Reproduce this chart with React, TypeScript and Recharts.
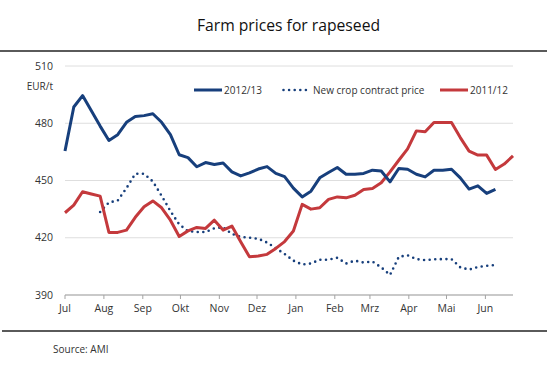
import React from "react"
import {
  LineChart,
  Line,
  XAxis,
  YAxis,
  CartesianGrid
} from "recharts"

const MONTHS = ["Jul", "Aug", "Sep", "Okt", "Nov", "Dez", "Jan", "Feb", "Mrz", "Apr", "Mai", "Jun"]
// days from 1 July to the start of each month
const MONTH_START_DAYS = [0, 31, 62, 92, 123, 153, 184, 215, 243, 274, 304, 335]

const Y_TICKS = [390, 420, 450, 480, 510]

// weekly prices, EUR/t
const CROP_2012_13 = [
  465.5, 488.5, 494.5, 486.5, 478.5, 471, 474, 480.5, 483.5, 484, 485, 480.5, 474,
  463.5, 462, 457.2, 459.4, 458.4, 459.2, 454.5, 452.4, 454, 456, 457.3, 453.7, 452,
  446, 441.4, 444.4, 451.4, 454.2, 456.8, 453.3, 453.3, 453.7, 455.4, 455, 449.3,
  456.3, 455.9, 453.3, 451.9, 455.4, 455.4, 455.9, 451.4, 445.5, 447.2, 443.2, 445.3
]

const NEW_CROP = [
  null, null, null, null, 433.5, 438.5, 439.5, 446, 453.5, 453.5, 449.5, 442, 434,
  427, 423.5, 423, 423, 425, 425.5, 422, 420.5, 420, 419.5, 417.5, 414.5, 411.5,
  408, 406, 406.5, 408.5, 408.5, 409.5, 406.5, 408, 407, 407.5, 404.5, 400.5,
  410, 410.8, 408.8, 408.3, 408.7, 408.8, 408.8, 404.5, 403.3, 404.7, 405.3, 405.7
]

const CROP_2011_12 = [
  433.1, 437.1, 444.1, 442.9, 441.8, 422.8, 422.8, 424, 430.7, 436.2, 439.3, 435.7,
  429.2, 420.7, 423.6, 425.4, 424.9, 429.2, 424, 426.1, 417.9, 410, 410.4, 411.3,
  414.4, 418, 423.5, 437.5, 435, 435.7, 440.1, 441.4, 440.9, 442.3, 445.3, 445.8,
  448.8, 454.5, 460.6, 466.6, 476, 475.5, 480.4, 480.4, 480.4, 472.5, 465.4, 463.3,
  463.3, 455.8, 458.6, 462.9
]

const BLUE = "#173f7c"
const RED = "#c4393c"
const FONT = "'Open Sans', sans-serif"

const data = CROP_2011_12.map((v, i) => ({
  week: i,
  c1213: CROP_2012_13[i] ?? null,
  newCrop: NEW_CROP[i] ?? null,
  c1112: v
}))

const monthTicks = MONTH_START_DAYS.map(d => d / 7)

function LegendItem({ left, label, color, dotted }: { left: number, label: string, color: string, dotted?: boolean }) {
  return (
    <div style={{ position: "absolute", left, top: 83, display: "flex", alignItems: "center" }}>
      <svg width={28} height={6}>
        <line
          x1={dotted ? 1.5 : 0}
          x2={dotted ? 26 : 28}
          y1={3}
          y2={3}
          stroke={color}
          strokeWidth={dotted ? 2.6 : 3}
          strokeLinecap={dotted ? "round" : "butt"}
          strokeDasharray={dotted ? "0 5.6" : undefined}
        />
      </svg>
      <span style={{ marginLeft: dotted ? 3 : 2, fontFamily: FONT, fontSize: 10, color: "#333", whiteSpace: "nowrap" }}>
        {label}
      </span>
    </div>
  )
}

export default function App() {
  return (
    <div style={{ position: "absolute", left: 0, top: 0, width: 549, height: 375, background: "#fff" }}>

      {/* title, centred over the plot */}
      <div style={{
        position: "absolute", top: 14, left: 0, width: 577, textAlign: "center",
        fontFamily: FONT, fontSize: 15.7, color: "#111"
      }}>
        Farm prices for rapeseed
      </div>
      <div style={{ position: "absolute", top: 50, left: 0, width: 547, height: 2, background: "#5a5a5a" }} />

      <div style={{
        position: "absolute", top: 79, left: 0, width: 53, textAlign: "right",
        fontFamily: FONT, fontSize: 10, color: "#333"
      }}>
        EUR/t
      </div>

      <div style={{ position: "absolute", left: 0, top: 0 }}>
        <LineChart
          width={549}
          height={375}
          data={data}
          margin={{ top: 66, right: 36, bottom: 50, left: 25 }}
        >
          <CartesianGrid vertical={false} stroke="#dedede" strokeWidth={1} />
          <XAxis
            dataKey="week"
            type="number"
            domain={[0, 51]}
            ticks={monthTicks}
            tickFormatter={(v: number) => MONTHS[monthTicks.indexOf(v)] ?? ""}
            interval={0}
            stroke="#a3a3a3"
            tickSize={4}
            tickMargin={6}
            height={30}
            tick={{ fontFamily: FONT, fontSize: 10.5, fill: "#333" }}
          />
          <YAxis
            type="number"
            domain={[390, 510]}
            ticks={Y_TICKS}
            axisLine={false}
            tickLine={false}
            tickSize={4}
            tickMargin={8}
            width={40}
            tick={{ fontFamily: FONT, fontSize: 10.5, fill: "#333" }}
          />
          <Line
            dataKey="newCrop"
            stroke={BLUE}
            strokeWidth={2.6}
            strokeDasharray="0 5.6"
            strokeLinecap="round"
            dot={false}
            isAnimationActive={false}
          />
          <Line
            dataKey="c1112"
            stroke={RED}
            strokeWidth={3}
            dot={false}
            strokeLinejoin="round"
            isAnimationActive={false}
          />
          <Line
            dataKey="c1213"
            stroke={BLUE}
            strokeWidth={3}
            dot={false}
            strokeLinejoin="round"
            isAnimationActive={false}
          />
        </LineChart>
      </div>

      {/* legend */}
      <LegendItem left={194} label="2012/13" color={BLUE} />
      <LegendItem left={282} label="New crop contract price" color={BLUE} dotted />
      <LegendItem left={440} label="2011/12" color={RED} />

      <div style={{ position: "absolute", top: 330, left: 2, width: 545, height: 2, background: "#5a5a5a" }} />
      <div style={{
        position: "absolute", top: 342, left: 53,
        fontFamily: FONT, fontSize: 10, color: "#333"
      }}>
        Source: AMI
      </div>
    </div>
  )
}
